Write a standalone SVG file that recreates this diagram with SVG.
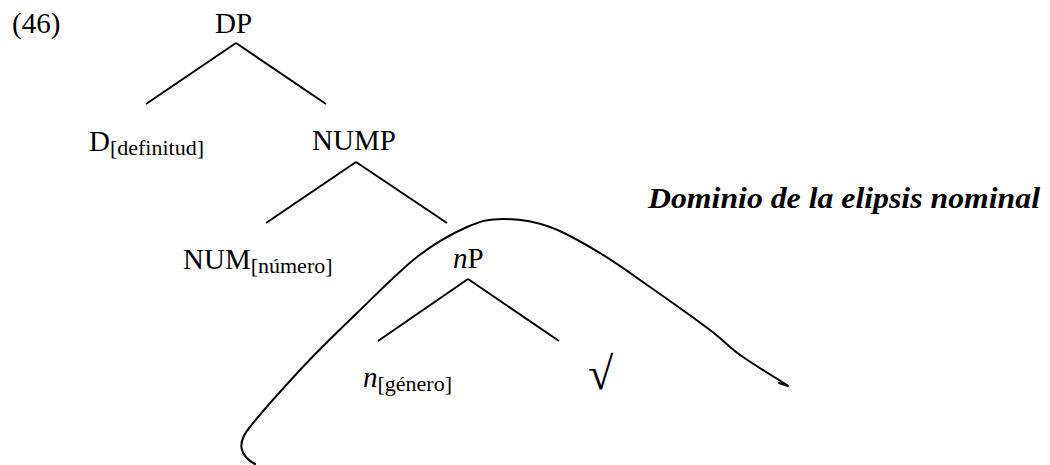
<svg xmlns="http://www.w3.org/2000/svg" width="1050" height="465" viewBox="0 0 1050 465">
<style>
.t{font-family:"Liberation Serif","Times New Roman",serif;font-size:29px;fill:#000}
.s{font-size:22px}
.i{font-style:italic}
.e{stroke:#000;stroke-width:2;fill:none;stroke-linecap:butt}
.c{stroke:#000;stroke-width:2;fill:none;stroke-linecap:round;stroke-linejoin:round}
.lab{font-family:"Liberation Serif","Times New Roman",serif;font-size:29px;font-style:italic;font-weight:bold;fill:#000}
</style>
<rect width="1050" height="465" fill="#fff"/>
<text class="t" x="12" y="33">(46)</text>
<g id="connectors">
<line class="e" x1="236" y1="43" x2="146" y2="104"/>
<line class="e" x1="236" y1="43" x2="326" y2="104"/>
<line class="e" x1="356" y1="162" x2="266" y2="223"/>
<line class="e" x1="356" y1="162" x2="447" y2="223"/>
<line class="e" x1="468" y1="279" x2="378" y2="341"/>
<line class="e" x1="468" y1="279" x2="559" y2="341"/>
</g>
<g id="DP"><text class="t" x="215" y="33">DP</text></g>
<g id="D"><text class="t" x="89" y="151">D<tspan class="s" dy="4">[definitud]</tspan></text></g>
<g id="NUMP"><text class="t" x="312" y="150">NUMP</text></g>
<g id="NUM"><text class="t" x="183" y="269">NUM<tspan class="s" dy="4">[número]</tspan></text></g>
<g id="nP"><text class="t" x="453" y="268"><tspan class="i">n</tspan>P</text></g>
<g id="n"><text class="t" x="363" y="387"><tspan class="i">n</tspan><tspan class="s" dy="4">[género]</tspan></text></g>
<g id="root"><text class="t i" x="588" y="389" style="font-size:46px">√</text></g>
<g id="domain">
<path class="c" d="M255,464 C240,456 236,443 250,427 C259.8,414.2 282.2,389.3 300,370 C317.8,350.7 337.5,331.8 357,313 C376.5,294.2 398.7,271.3 417,257 C435.3,242.7 452.7,233.3 467,227 C481.3,220.7 489.2,219 503,219 C516.8,219 533.8,221.3 550,227 C566.2,232.7 583.3,243 600,253 C616.7,263 631.7,274.2 650,287 C668.3,299.8 694.5,318.2 710,330 C725.5,341.8 732,350 743,357 C756,366 779.7,380.5 787,385 M779,383 L788,386"/>
<text class="lab" x="648" y="208" textLength="392" lengthAdjust="spacingAndGlyphs">Dominio de la elipsis nominal</text>
</g>
</svg>
